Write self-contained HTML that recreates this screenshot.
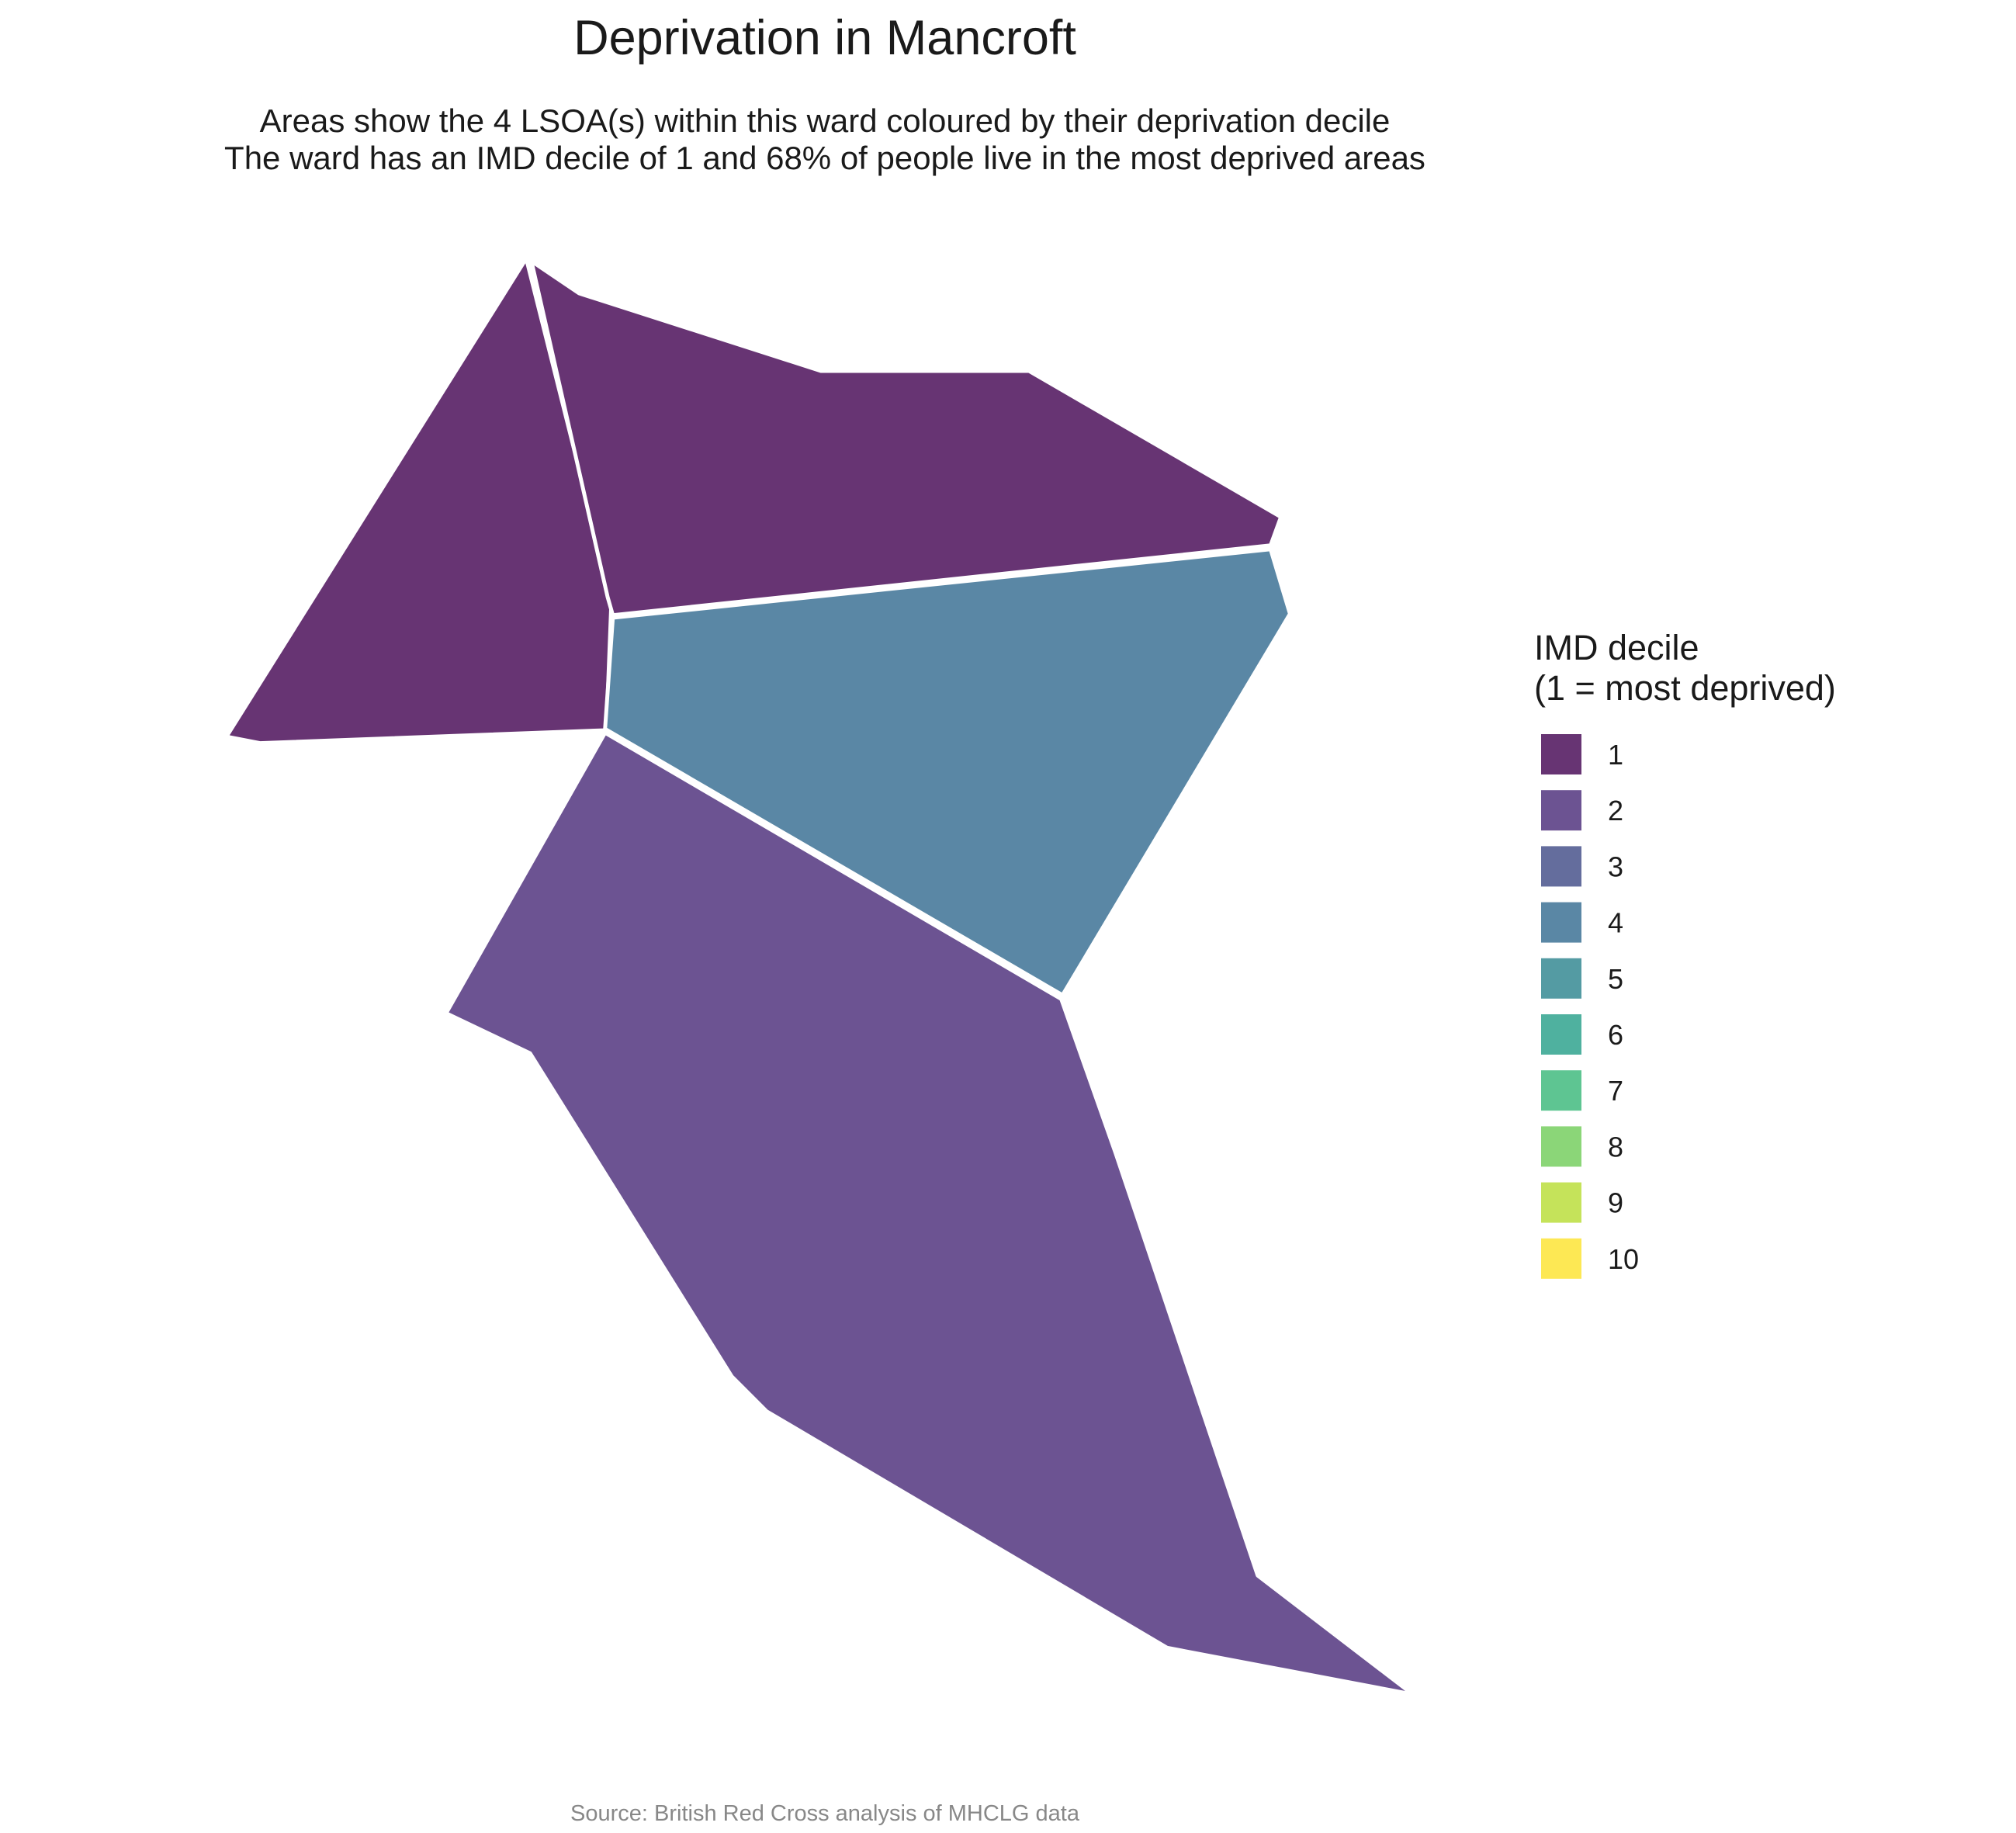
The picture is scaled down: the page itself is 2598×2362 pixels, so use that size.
<!DOCTYPE html>
<html><head><meta charset="utf-8"><style>
html,body{margin:0;padding:0;background:#fff;}
svg{display:block;font-family:"Liberation Sans",Arial,sans-serif;}
</style></head><body>
<svg id="chart" width="2598" height="2362" viewBox="0 0 2598 2362">
<text x="1063" y="70" font-size="63" text-anchor="middle" fill="#1a1a1a">Deprivation in Mancroft</text>
<text x="1063" y="170" font-size="42" text-anchor="middle" fill="#1a1a1a">Areas show the 4 LSOA(s) within this ward coloured by their deprivation decile</text>
<text x="1063" y="218" font-size="42" text-anchor="middle" fill="#1a1a1a">The ward has an IMD decile of 1 and 68% of people live in the most deprived areas</text>
<g id="areas" transform="translate(-3,-5)"></g>
<g id="legend">
<text x="1977" y="850" font-size="45" fill="#1a1a1a">IMD decile</text>
<text x="1977" y="902" font-size="45" fill="#1a1a1a">(1 = most deprived)</text>
</g>
<text x="1063" y="2346" font-size="29" text-anchor="middle" fill="#888">Source: British Red Cross analysis of MHCLG data</text>
</svg>
<script>
const deciles = [1,2,3,4,5,6,7,8,9,10];
const palette = ["#673473","#6c5392","#646d9d","#5a87a5","#549ba3","#4fb19f","#5ec592","#8bd678","#c5e35a","#fde854"];
const areaNames = ["lsoa-west","lsoa-north","lsoa-centre-east","lsoa-south"];
const areaDeciles = [1,1,4,2];
const areaShapes = [
 [[409,203],[475,466],[471,568],[203,578],[177,573]],
 [[413,205],[450,230],[637,290],[798,290],[993,403],[985,425],[476,479],[472,465]],
 [[476,481],[985,428],[1000,478],[824,773],[470,567]],
 [[470,570],[823,776],[865,895],[975,1222],[1095,1314],[905,1278],[595,1095],[568,1068],[412,818],[347,787]]
];
const S = 2598/1560;
const sx = v => v*S, sy = v => v*S;
const NS = "http://www.w3.org/2000/svg";
const g = document.getElementById('areas');
areaShapes.forEach((pts,i)=>{
  const p = document.createElementNS(NS,'polygon');
  p.setAttribute('points', pts.map(q=>sx(q[0])+','+sy(q[1])).join(' '));
  p.setAttribute('fill', palette[deciles.indexOf(areaDeciles[i])]);
  p.setAttribute('stroke','#fff');
  p.setAttribute('stroke-width','5');
  p.setAttribute('stroke-linejoin','round');
  
  
  g.appendChild(p);
});
const lg = document.getElementById('legend');
deciles.forEach((d,i)=>{
  const r = document.createElementNS(NS,'rect');
  r.setAttribute('x',1986); r.setAttribute('y',946+i*72.2);
  r.setAttribute('width',52); r.setAttribute('height',52);
  r.setAttribute('fill',palette[i]);
  
  
  lg.appendChild(r);
  const t = document.createElementNS(NS,'text');
  t.setAttribute('x',2072); t.setAttribute('y',946+i*72.2+39);
  t.setAttribute('font-size',36); t.setAttribute('fill','#1a1a1a');
  t.textContent = d;
  
  
  lg.appendChild(t);
});
</script>
</body></html>
